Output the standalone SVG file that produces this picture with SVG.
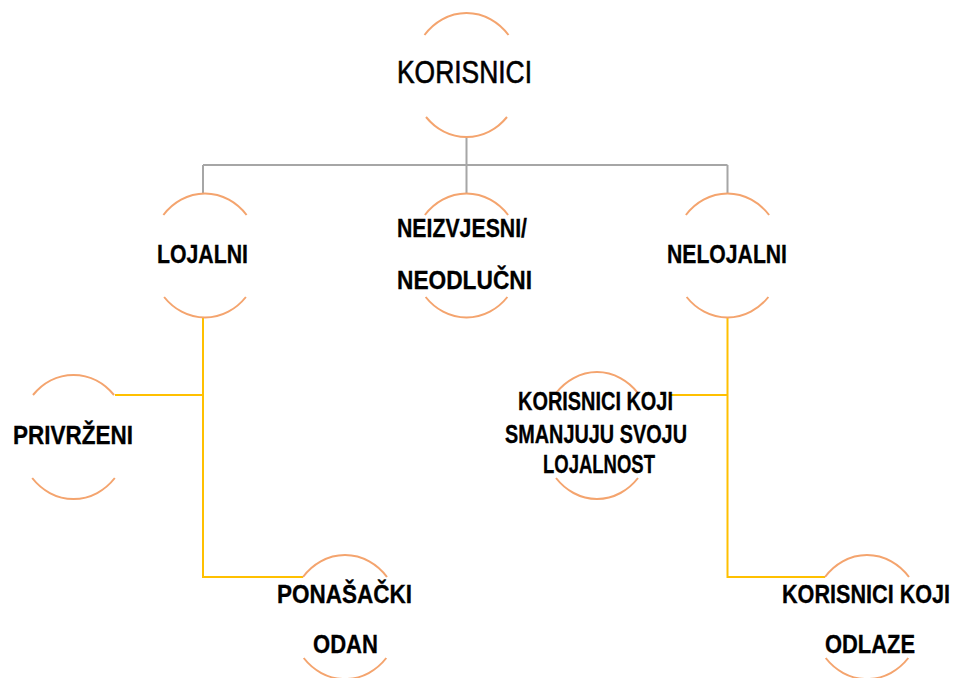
<svg xmlns="http://www.w3.org/2000/svg" width="960" height="678" viewBox="0 0 960 678">
<style>
.arc{fill:none;stroke:#F4A46E;stroke-width:2}
.grey{fill:none;stroke:#A6A6A6;stroke-width:2}
.yel{fill:none;stroke:#FFC000;stroke-width:2}
.t{font-family:"Liberation Sans",Arial,sans-serif;font-weight:bold;font-size:25px;fill:#000;stroke:#000;stroke-width:0.3}
.t0{font-family:"Liberation Sans",Arial,sans-serif;font-size:31px;fill:#000;stroke:#000;stroke-width:0.6}
</style>
<rect width="960" height="678" fill="#fff"/>
<g id="connectors">
<path class="grey" d="M466.5 137V165M203 165H727.5M203 165V193M466.5 165V193M727.5 165V193"/>
<path class="yel" d="M203 318V577H303M203 395H115"/>
<path class="yel" d="M727.5 318V577H825M727.5 395H670"/>
</g>
<g id="node-korisnici">
<path class="arc" d="M424.5 35A55 62 0 0 1 508.5 35M426 117A55 62 0 0 0 507 117"/>
<text class="t0" x="397" y="83" textLength="135" lengthAdjust="spacingAndGlyphs">KORISNICI</text>
</g>
<g id="node-lojalni">
<path class="arc" d="M163.4 215A55 62 0 0 1 246.6 215M164.1 297A55 62 0 0 0 245.9 297"/>
<text class="t" x="157" y="263" textLength="91" lengthAdjust="spacingAndGlyphs">LOJALNI</text>
</g>
<g id="node-neizvjesni">
<path class="arc" d="M424.9 215A55 62 0 0 1 508.1 215M425.6 297A55 62 0 0 0 507.4 297"/>
<text class="t" x="397" y="237" textLength="130" lengthAdjust="spacingAndGlyphs">NEIZVJESNI/</text>
<text class="t" x="397" y="289" textLength="135" lengthAdjust="spacingAndGlyphs">NEODLUČNI</text>
</g>
<g id="node-nelojalni">
<path class="arc" d="M685.9 215A55 62 0 0 1 769.1 215M686.6 297A55 62 0 0 0 768.4 297"/>
<text class="t" x="667" y="263" textLength="120" lengthAdjust="spacingAndGlyphs">NELOJALNI</text>
</g>
<g id="node-privrzeni">
<path class="arc" d="M33 395A55 62 0 0 1 114 395M32.2 478A55 62 0 0 0 114.8 478"/>
<text class="t" x="13" y="444" textLength="120" lengthAdjust="spacingAndGlyphs">PRIVRŽENI</text>
</g>
<g id="node-smanjuju">
<path class="arc" d="M556.1 393A55 63 0 0 1 637.9 393M556 478A55 63 0 0 0 638 478"/>
<text class="t" x="518" y="410" textLength="155" lengthAdjust="spacingAndGlyphs">KORISNICI KOJI</text>
<text class="t" x="505" y="443" textLength="182" lengthAdjust="spacingAndGlyphs">SMANJUJU SVOJU</text>
<text class="t" x="543" y="473" textLength="112" lengthAdjust="spacingAndGlyphs">LOJALNOST</text>
</g>
<g id="node-ponasacki">
<path class="arc" d="M303 577A55 62 0 0 1 387 577M303.7 658A55 62 0 0 0 386.3 658"/>
<text class="t" x="277" y="603" textLength="135" lengthAdjust="spacingAndGlyphs">PONAŠAČKI</text>
<text class="t" x="313" y="653" textLength="65" lengthAdjust="spacingAndGlyphs">ODAN</text>
</g>
<g id="node-odlaze">
<path class="arc" d="M825 577A55 62 0 0 1 909 577M825.7 658A55 62 0 0 0 908.3 658"/>
<text class="t" transform="translate(782 603) scale(0.865 1)" x="0" y="0">KORISNICI KOJI</text>
<text class="t" x="825" y="653" textLength="90" lengthAdjust="spacingAndGlyphs">ODLAZE</text>
</g>
</svg>
